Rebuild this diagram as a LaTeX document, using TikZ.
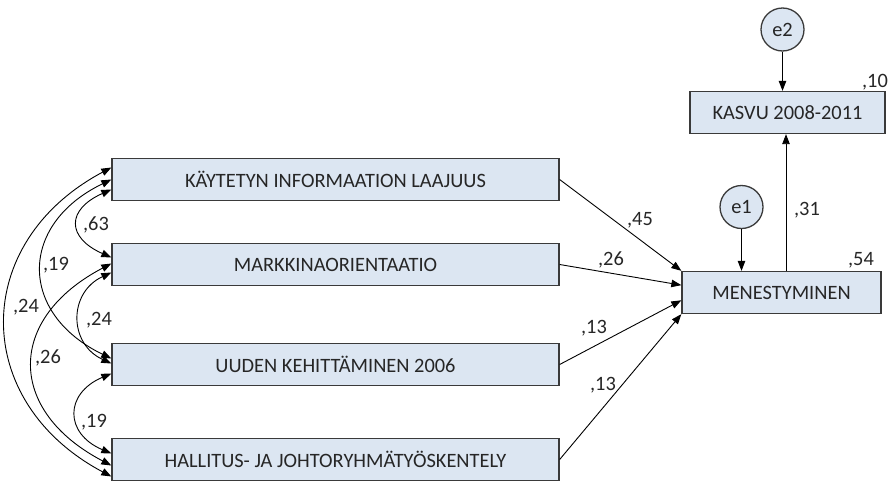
\documentclass[tikz,border=0pt]{standalone}
\usepackage{fontspec}
\setmainfont{Carlito}
\usetikzlibrary{arrows.meta,calc}
\definecolor{boxfill}{HTML}{DCE6F2}
\definecolor{edge}{HTML}{3A3A3A}
\definecolor{ink}{HTML}{262626}
\begin{document}
\begin{tikzpicture}[x=1pt,y=-1pt,
  txt/.style={font=\fontsize{20.4}{23}\selectfont, text=ink},
  box/.style={txt, draw=edge, line width=1.3pt, fill=boxfill, inner sep=0pt, minimum height=42pt},
  lbox/.style={box, minimum width=447pt},
  err/.style={txt, circle, draw=edge, line width=1.3pt, fill=boxfill, inner sep=0pt, minimum size=43pt},
  arr/.style={line width=0.9pt, -{Triangle[length=10pt,width=7.5pt]}},
  dbl/.style={line width=0.9pt, {Triangle[length=10pt,width=7.5pt]}-{Triangle[length=10pt,width=7.5pt]}},
  lab/.style={txt, inner sep=0pt}
]
\useasboundingbox (0,0) rectangle (888,482);
% left boxes
\node[lbox] (b1) at (335.5,179.5) {KÄYTETYN INFORMAATION LAAJUUS};
\node[lbox] (b2) at (335.5,264.5) {MARKKINAORIENTAATIO};
\node[lbox] (b3) at (335.5,364.5) {UUDEN KEHITTÄMINEN 2006};
\node[lbox] (b4) at (335.5,459.5) {HALLITUS- JA JOHTORYHMÄTYÖSKENTELY};
% right boxes
\node[box, minimum width=199pt] (m) at (781.5,292.5) {MENESTYMINEN};
\node[box, minimum width=195pt] (k) at (787.5,112.5) {KASVU 2008-2011};
\node[err] (e1) at (741.5,207) {e1};
\node[err] (e2) at (782.5,29.5) {e2};
% target points on MENESTYMINEN
\coordinate (m1) at (m.north west);
\coordinate (m2) at ($(m.north west)!0.33!(m.south west)$);
\coordinate (m3) at ($(m.north west)!0.68!(m.south west)$);
\coordinate (m4) at (m.south west);
\draw[arr] (b1.east) -- (m1);
\draw[arr] (b2.east) -- (m2);
\draw[arr] (b3.east) -- (m3);
\draw[arr] (b4.east) -- (m4);
\draw[arr] (e1) -- (e1 |- m.north);
\draw[arr] (e2) -- (e2 |- k.north);
\coordinate (mk) at ($(m.north)+(4.5,0)$);
\draw[arr] (mk) -- (mk |- k.south);
% correlations
\draw[dbl] ([yshift=-10pt]b1.west) .. controls +(-45,20) and +(-45,-20) .. ([yshift=7pt]b2.west);
\draw[dbl] ([yshift=0pt]b1.west) .. controls +(-93,45) and +(-93,-45) .. ([yshift=6pt]b3.west);
\draw[dbl] ([yshift=12pt]b1.west) .. controls +(-141,75) and +(-141,-75) .. ([yshift=-17pt]b4.west);
\draw[dbl] ([yshift=-8pt]b2.west) .. controls +(-43,20) and +(-43,-20) .. ([yshift=1pt]b3.west);
\draw[dbl] ([yshift=1pt]b2.west) .. controls +(-105,55) and +(-105,-55) .. ([yshift=-6pt]b4.west);
\draw[dbl] ([yshift=-9pt]b3.west) .. controls +(-47,20) and +(-47,-20) .. ([yshift=6pt]b4.west);
% labels
\node[lab] (c63) at (96,225) {,63};
\node[lab] (c19a) at (56,265) {,19};
\node[lab] (c24a) at (26,307) {,24};
\node[lab] (c24b) at (99,320) {,24};
\node[lab] (c26) at (48,358) {,26};
\node[lab] (c19b) at (94,422) {,19};
\node[lab] (p45) at (640,220) {,45};
\node[lab] (p26) at (611,260) {,26};
\node[lab] (p13a) at (594,328) {,13};
\node[lab] (p13b) at (603,385) {,13};
\node[lab] (p31) at (807,210) {,31};
\node[lab] (p54) at (861,260) {,54};
\node[lab] (p10) at (875,82) {,10};
\end{tikzpicture}
\end{document}
